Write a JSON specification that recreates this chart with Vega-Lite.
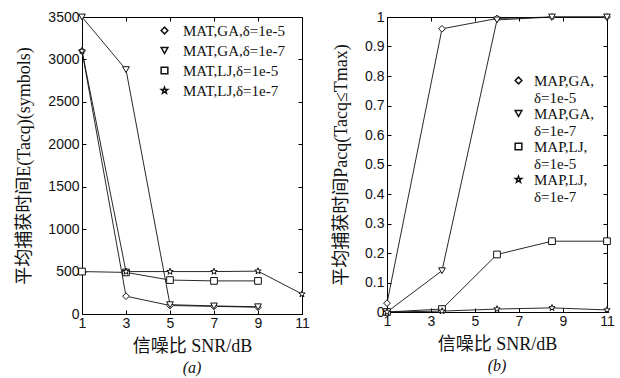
{
  "$schema": "https://vega.github.io/schema/vega-lite/v6.json",
  "background": "white",
  "padding": {"left": 15, "top": 9, "right": 0, "bottom": 0},
  "spacing": 22,
  "resolve": {"scale": {"shape": "independent"}, "legend": {"shape": "independent"}},
  "config": {
    "view": {"stroke": "#000", "strokeWidth": 1},
    "axis": {
      "grid": false,
      "domain": false,
      "labelFont": "Liberation Sans",
      "labelFontSize": 14,
      "labelColor": "#111",
      "labelFlush": false,
      "labelOverlap": false,
      "tickColor": "#000",
      "tickSize": -4,
      "titleFont": "Liberation Serif, Noto Sans CJK SC",
      "titleFontSize": 18,
      "titleFontWeight": "normal",
      "titleColor": "#111"
    },
    "title": {"font": "Liberation Serif", "fontSize": 16, "fontStyle": "italic", "fontWeight": "normal", "color": "#111"}
  },
  "hconcat": [
    {
      "width": 220,
      "height": 297,
      "title": {"text": "(a)", "orient": "bottom", "anchor": "middle", "frame": "group", "offset": 5},
      "data": {"values": [
        {"series": "MAT,GA,δ=1e-5", "snr": 1, "t": 3100},
        {"series": "MAT,GA,δ=1e-5", "snr": 3, "t": 210},
        {"series": "MAT,GA,δ=1e-5", "snr": 5, "t": 100},
        {"series": "MAT,GA,δ=1e-5", "snr": 7, "t": 90},
        {"series": "MAT,GA,δ=1e-5", "snr": 9, "t": 80},
        {"series": "MAT,GA,δ=1e-7", "snr": 1, "t": 3500},
        {"series": "MAT,GA,δ=1e-7", "snr": 3, "t": 2880},
        {"series": "MAT,GA,δ=1e-7", "snr": 5, "t": 110},
        {"series": "MAT,GA,δ=1e-7", "snr": 7, "t": 95},
        {"series": "MAT,GA,δ=1e-7", "snr": 9, "t": 85},
        {"series": "MAT,LJ,δ=1e-5", "snr": 1, "t": 500},
        {"series": "MAT,LJ,δ=1e-5", "snr": 3, "t": 490},
        {"series": "MAT,LJ,δ=1e-5", "snr": 5, "t": 400},
        {"series": "MAT,LJ,δ=1e-5", "snr": 7, "t": 390},
        {"series": "MAT,LJ,δ=1e-5", "snr": 9, "t": 390},
        {"series": "MAT,LJ,δ=1e-7", "snr": 1, "t": 3100},
        {"series": "MAT,LJ,δ=1e-7", "snr": 3, "t": 500},
        {"series": "MAT,LJ,δ=1e-7", "snr": 5, "t": 500},
        {"series": "MAT,LJ,δ=1e-7", "snr": 7, "t": 500},
        {"series": "MAT,LJ,δ=1e-7", "snr": 9, "t": 505},
        {"series": "MAT,LJ,δ=1e-7", "snr": 11, "t": 235}
      ]},
      "resolve": {"axis": {"x": "independent", "y": "independent"}},
      "layer": [
        {
          "mark": {"type": "line", "color": "#111", "strokeWidth": 0.9},
          "encoding": {
            "x": {"field": "snr", "type": "quantitative", "scale": {"domain": [1, 11], "nice": false, "zero": false},
                  "axis": {"orient": "bottom", "values": [1, 3, 5, 7, 9, 11], "title": "信噪比 SNR/dB", "labelPadding": 6, "titlePadding": 7}},
            "y": {"field": "t", "type": "quantitative", "scale": {"domain": [0, 3500], "nice": false},
                  "axis": {"orient": "left", "format": "d", "values": [0, 500, 1000, 1500, 2000, 2500, 3000, 3500], "title": "平均捕获时间E(Tacq)(symbols)", "labelPadding": 7, "titlePadding": 14}},
            "detail": {"field": "series"}
          }
        },
        {
          "mark": {"type": "point", "filled": true, "fill": "white", "stroke": "#111", "strokeWidth": 1, "size": 45, "opacity": 1},
          "encoding": {
            "x": {"field": "snr", "type": "quantitative",
                  "axis": {"orient": "top", "values": [1, 3, 5, 7, 9, 11], "labels": false, "title": null}},
            "y": {"field": "t", "type": "quantitative",
                  "axis": {"orient": "right", "values": [0, 500, 1000, 1500, 2000, 2500, 3000, 3500], "labels": false, "title": null}},
            "shape": {"field": "series", "type": "nominal",
              "scale": {"domain": ["MAT,GA,δ=1e-5", "MAT,GA,δ=1e-7", "MAT,LJ,δ=1e-5", "MAT,LJ,δ=1e-7"],
                        "range": ["diamond", "triangle-down", "square", "M0,-1L0.24,-0.33L0.95,-0.31L0.38,0.12L0.59,0.81L0,0.4L-0.59,0.81L-0.38,0.12L-0.95,-0.31L-0.24,-0.33Z"]},
              "legend": {
                "orient": "none", "legendX": 75, "legendY": 6, "title": null, "padding": 0,
                "labelFont": "Liberation Serif", "labelFontSize": 15, "labelColor": "#111",
                "symbolSize": 45, "labelOffset": 11, "rowPadding": 4
              }
            }
          }
        }
      ]
    },
    {
      "width": 220,
      "height": 295,
      "title": {"text": "(b)", "orient": "bottom", "anchor": "middle", "frame": "group", "offset": 5},
      "data": {"values": [
        {"series": "MAP,GA,δ=1e-5", "snr": 1, "p": 0.03},
        {"series": "MAP,GA,δ=1e-5", "snr": 3.5, "p": 0.96},
        {"series": "MAP,GA,δ=1e-5", "snr": 6, "p": 0.995},
        {"series": "MAP,GA,δ=1e-5", "snr": 8.5, "p": 1.0},
        {"series": "MAP,GA,δ=1e-5", "snr": 11, "p": 1.0},
        {"series": "MAP,GA,δ=1e-7", "snr": 1, "p": 0.0},
        {"series": "MAP,GA,δ=1e-7", "snr": 3.5, "p": 0.14},
        {"series": "MAP,GA,δ=1e-7", "snr": 6, "p": 0.99},
        {"series": "MAP,GA,δ=1e-7", "snr": 8.5, "p": 1.0},
        {"series": "MAP,GA,δ=1e-7", "snr": 11, "p": 1.0},
        {"series": "MAP,LJ,δ=1e-5", "snr": 1, "p": 0.0},
        {"series": "MAP,LJ,δ=1e-5", "snr": 3.5, "p": 0.01},
        {"series": "MAP,LJ,δ=1e-5", "snr": 6, "p": 0.195},
        {"series": "MAP,LJ,δ=1e-5", "snr": 8.5, "p": 0.24},
        {"series": "MAP,LJ,δ=1e-5", "snr": 11, "p": 0.24},
        {"series": "MAP,LJ,δ=1e-7", "snr": 1, "p": 0.0},
        {"series": "MAP,LJ,δ=1e-7", "snr": 3.5, "p": 0.003},
        {"series": "MAP,LJ,δ=1e-7", "snr": 6, "p": 0.01},
        {"series": "MAP,LJ,δ=1e-7", "snr": 8.5, "p": 0.014},
        {"series": "MAP,LJ,δ=1e-7", "snr": 11, "p": 0.007}
      ]},
      "resolve": {"axis": {"x": "independent", "y": "independent"}},
      "layer": [
        {
          "mark": {"type": "line", "color": "#111", "strokeWidth": 0.9},
          "encoding": {
            "x": {"field": "snr", "type": "quantitative", "scale": {"domain": [1, 11], "nice": false, "zero": false},
                  "axis": {"orient": "bottom", "values": [1, 3, 5, 7, 9, 11], "title": "信噪比 SNR/dB", "labelPadding": 6, "titlePadding": 7}},
            "y": {"field": "p", "type": "quantitative", "scale": {"domain": [0, 1], "nice": false},
                  "axis": {"orient": "left", "values": [0, 0.1, 0.2, 0.3, 0.4, 0.5, 0.6, 0.7, 0.8, 0.9, 1], "labelExpr": "datum.value == 0 ? '0' : datum.value == 1 ? '1' : format(datum.value, '.1f')", "title": "平均捕获时间Pacq(Tacq≤Tmax)", "labelPadding": 7, "titlePadding": 14}},
            "detail": {"field": "series"}
          }
        },
        {
          "mark": {"type": "point", "filled": true, "fill": "white", "stroke": "#111", "strokeWidth": 1, "size": 45, "opacity": 1},
          "encoding": {
            "x": {"field": "snr", "type": "quantitative",
                  "axis": {"orient": "top", "values": [1, 3, 5, 7, 9, 11], "labels": false, "title": null}},
            "y": {"field": "p", "type": "quantitative",
                  "axis": {"orient": "right", "values": [0, 0.1, 0.2, 0.3, 0.4, 0.5, 0.6, 0.7, 0.8, 0.9, 1], "labels": false, "title": null}},
            "shape": {"field": "series", "type": "nominal",
              "scale": {"domain": ["MAP,GA,δ=1e-5", "MAP,GA,δ=1e-7", "MAP,LJ,δ=1e-5", "MAP,LJ,δ=1e-7"],
                        "range": ["diamond", "triangle-down", "square", "M0,-1L0.24,-0.33L0.95,-0.31L0.38,0.12L0.59,0.81L0,0.4L-0.59,0.81L-0.38,0.12L-0.95,-0.31L-0.24,-0.33Z"]},
              "legend": {
                "orient": "none", "legendX": 124, "legendY": 56, "title": null, "padding": 0,
                "labelFont": "Liberation Serif", "labelFontSize": 15, "labelColor": "#111",
                "labelExpr": "[slice(datum.label, 0, indexof(datum.label, 'δ')), slice(datum.label, indexof(datum.label, 'δ'))]",
                "symbolSize": 45, "labelOffset": 8, "rowPadding": 0
              }
            }
          }
        }
      ]
    }
  ]
}
